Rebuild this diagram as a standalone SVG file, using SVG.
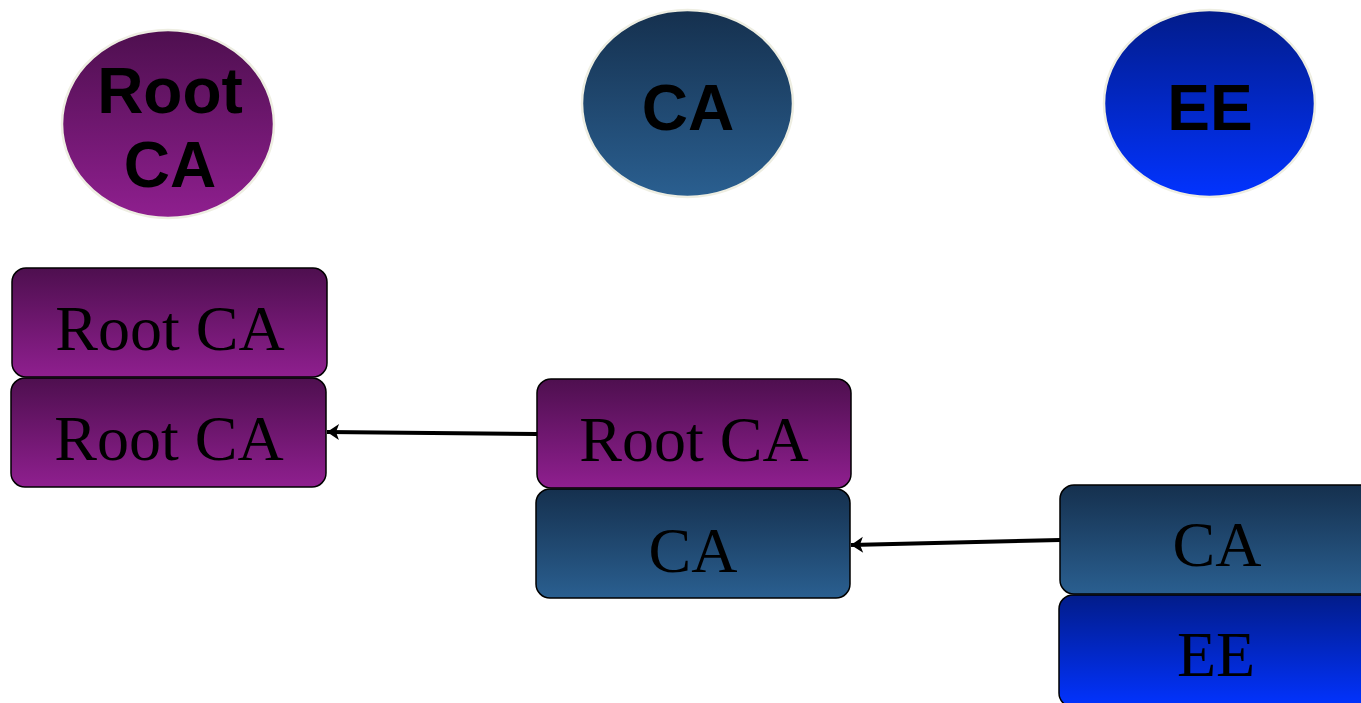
<svg xmlns="http://www.w3.org/2000/svg" width="1361" height="703" viewBox="0 0 1361 703">
<style>
.ell{stroke:#eeeee2;stroke-width:2.5}
.box{stroke:#000;stroke-width:1.5}
.bt{font-family:"Liberation Sans",Arial,sans-serif;font-weight:bold;font-size:64px;fill:#000;text-anchor:middle}
.st{font-family:"Liberation Serif","Times New Roman",serif;font-size:64px;fill:#000;text-anchor:middle}
.conn{stroke:#000;stroke-width:4;fill:none}
</style>
<defs>
<linearGradient id="gp" x1="0" y1="0" x2="0" y2="1"><stop offset="0" stop-color="#4e0f4f"/><stop offset="1" stop-color="#8f1f8f"/></linearGradient>
<linearGradient id="gb" x1="0" y1="0" x2="0" y2="1"><stop offset="0" stop-color="#15304e"/><stop offset="1" stop-color="#2a5f90"/></linearGradient>
<linearGradient id="ge" x1="0" y1="0" x2="0" y2="1"><stop offset="0" stop-color="#021c8a"/><stop offset="1" stop-color="#0233ff"/></linearGradient>
<marker id="ah" markerWidth="12" markerHeight="16" refX="12" refY="8" orient="auto" markerUnits="userSpaceOnUse" overflow="visible"><path d="M0,0 L12,8 L0,16 L3,8 Z" fill="#000"/></marker>
</defs>
<g id="node-rootca-circle"><ellipse class="ell" cx="168" cy="124" rx="106" ry="94" fill="url(#gp)"/><text class="bt" x="170" y="113">Root</text><text class="bt" x="170" y="187">CA</text></g>
<g id="node-ca-circle"><ellipse class="ell" cx="687.5" cy="103.5" rx="105.5" ry="93.5" fill="url(#gb)"/><text class="bt" x="688" y="130">CA</text></g>
<g id="node-ee-circle"><ellipse class="ell" cx="1209.5" cy="103.5" rx="105.5" ry="93.5" fill="url(#ge)"/><text class="bt" x="1210" y="130">EE</text></g>
<g id="node-root-root"><rect class="box" x="12" y="268" width="315" height="109" rx="14" fill="url(#gp)"/><text class="st" x="170" y="350">Root CA</text></g>
<g id="node-root-issuer"><rect class="box" x="11" y="378" width="315" height="109" rx="14" fill="url(#gp)"/><text class="st" x="169" y="460">Root CA</text></g>
<g id="node-ca-issuer"><rect class="box" x="537" y="379" width="314" height="109" rx="14" fill="url(#gp)"/><text class="st" x="694" y="461">Root CA</text></g>
<g id="node-ca-subject"><rect class="box" x="536" y="489" width="314" height="109" rx="14" fill="url(#gb)"/><text class="st" x="693" y="572">CA</text></g>
<g id="node-ee-issuer"><rect class="box" x="1060" y="485" width="315" height="109" rx="14" fill="url(#gb)"/><text class="st" x="1217" y="566">CA</text></g>
<g id="node-ee-subject"><rect class="box" x="1059" y="595" width="315" height="112" rx="14" fill="url(#ge)"/><text class="st" x="1216" y="676">EE</text></g>
<g id="connectors">
<path class="conn" d="M537,434 L327,432" marker-end="url(#ah)"/>
<path class="conn" d="M1060,540 L851,545" marker-end="url(#ah)"/>
</g>
</svg>
